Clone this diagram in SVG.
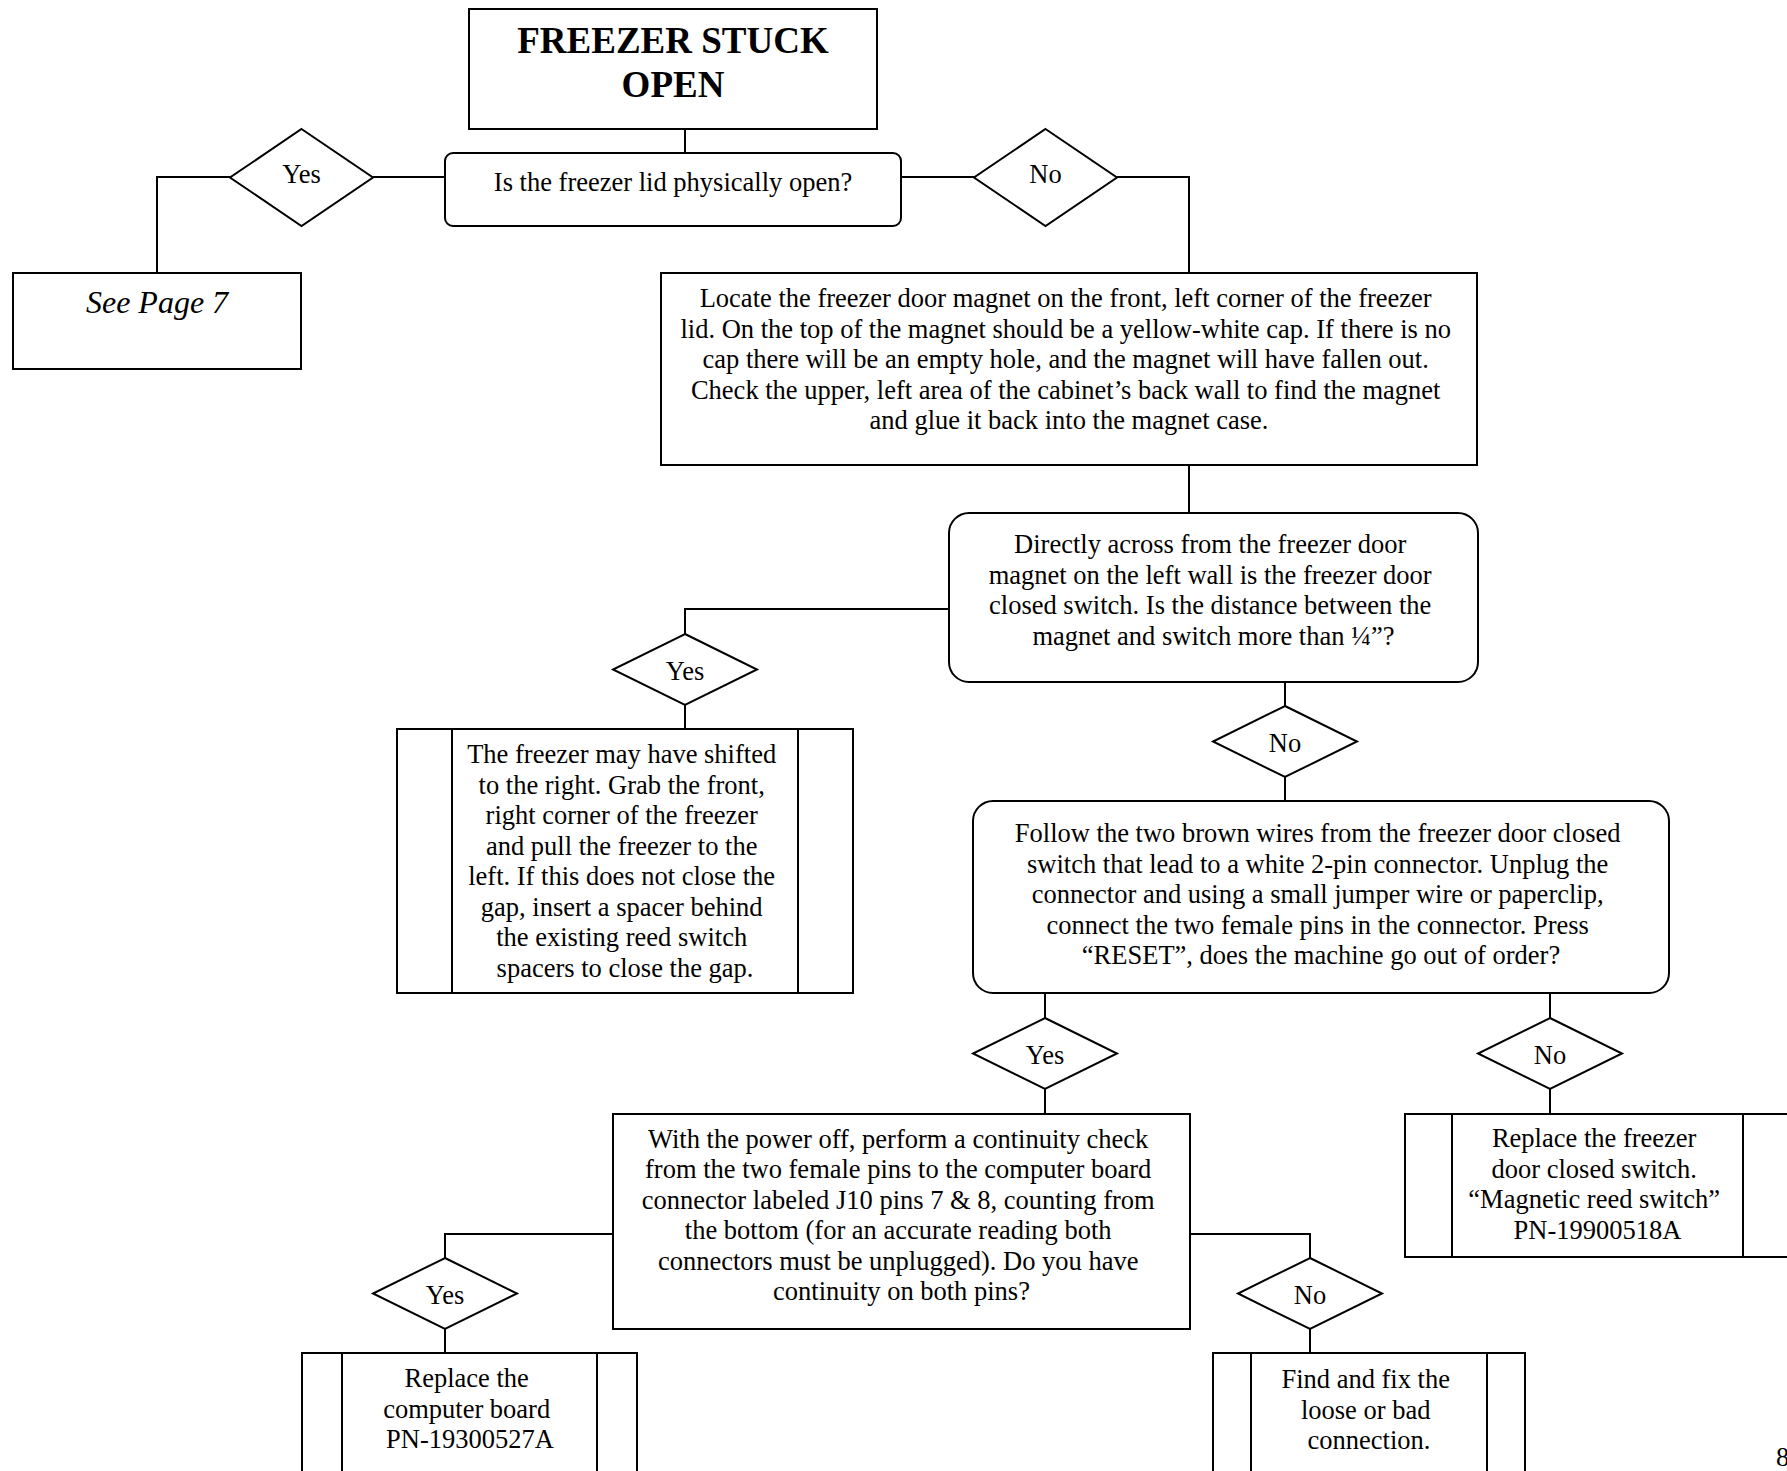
<svg xmlns="http://www.w3.org/2000/svg" width="1787" height="1471" viewBox="0 0 1787 1471">
  <style>
    .shape { fill: #ffffff; stroke: #000000; stroke-width: 2; }
    .bar { fill: none; stroke: #000000; stroke-width: 2; }
    .wire { fill: none; stroke: #000000; stroke-width: 2; }
    text { font-family: "Liberation Serif", "Times New Roman", serif; fill: #000000; text-anchor: middle; }
    .body { font-size: 26.5px; }
    .title { font-size: 37px; font-weight: bold; }
    .ref { font-size: 32px; font-style: italic; }
  </style>
  <rect width="1787" height="1471" fill="#ffffff"/>

  <!-- connectors -->
  <g id="connectors">
    <path class="wire" d="M685 129 V153"/>
    <path class="wire" d="M445 177 H373"/>
    <path class="wire" d="M230 177 H157 V273"/>
    <path class="wire" d="M901 177 H974"/>
    <path class="wire" d="M1117 177 H1189 V273"/>
    <path class="wire" d="M1189 465 V513"/>
    <path class="wire" d="M949 609 H685 V634"/>
    <path class="wire" d="M685 705 V729"/>
    <path class="wire" d="M1285 682 V706"/>
    <path class="wire" d="M1285 777 V801"/>
    <path class="wire" d="M1045 993 V1018"/>
    <path class="wire" d="M1045 1089 V1114"/>
    <path class="wire" d="M1550 993 V1018"/>
    <path class="wire" d="M1550 1089 V1114"/>
    <path class="wire" d="M613 1234 H445 V1258"/>
    <path class="wire" d="M445 1329 V1353"/>
    <path class="wire" d="M1190 1234 H1310 V1258"/>
    <path class="wire" d="M1310 1329 V1353"/>
  </g>

  <!-- start -->
  <g id="start">
    <rect class="shape" x="469" y="9" width="408" height="120"/>
    <text class="title" x="673" y="53">FREEZER STUCK</text>
    <text class="title" x="673" y="97">OPEN</text>
  </g>

  <g id="q-lid-open">
    <rect class="shape" x="445" y="153" width="456" height="73" rx="8" ry="8"/>
    <text class="body" x="673" y="191">Is the freezer lid physically open?</text>
  </g>

  <g id="d-lid-yes">
    <polygon class="shape" points="301.5,129 373,177.5 301.5,226 230,177.5"/>
    <text class="body" x="301.5" y="183">Yes</text>
  </g>

  <g id="d-lid-no">
    <polygon class="shape" points="1045.5,129 1117,177.5 1045.5,226 974,177.5"/>
    <text class="body" x="1045.5" y="183">No</text>
  </g>

  <g id="see-page-7">
    <rect class="shape" x="13" y="273" width="288" height="96"/>
    <text class="ref" x="157" y="313">See Page 7</text>
  </g>

  <g id="locate-magnet">
    <rect class="shape" x="661" y="273" width="816" height="192"/>
    <text class="body" x="1069" y="307">
      <tspan x="1069" y="307">Locate the freezer door magnet on the front, left corner of the freezer</tspan>
      <tspan x="1069" y="337.5">lid. On the top of the magnet should be a yellow-white cap. If there is no</tspan>
      <tspan x="1069" y="368">cap there will be an empty hole, and the magnet will have fallen out.</tspan>
      <tspan x="1069" y="398.5">Check the upper, left area of the cabinet’s back wall to find the magnet</tspan>
      <tspan x="1069" y="429">and glue it back into the magnet case.</tspan>
    </text>
  </g>

  <g id="q-distance">
    <rect class="shape" x="949" y="513" width="529" height="169" rx="20" ry="20"/>
    <text class="body" x="1213.5" y="553">
      <tspan x="1213.5" y="553">Directly across from the freezer door</tspan>
      <tspan x="1213.5" y="583.7">magnet on the left wall is the freezer door</tspan>
      <tspan x="1213.5" y="614.4">closed switch. Is the distance between the</tspan>
      <tspan x="1213.5" y="645.1">magnet and switch more than ¼”?</tspan>
    </text>
  </g>

  <g id="d-distance-yes">
    <polygon class="shape" points="685,634 757,669.5 685,705 613,669.5"/>
    <text class="body" x="685" y="680">Yes</text>
  </g>

  <g id="shifted">
    <rect class="shape" x="397" y="729" width="456" height="264"/>
    <path class="bar" d="M452 729 V993 M798 729 V993"/>
    <text class="body" x="625" y="763">
      <tspan x="625" y="763">The freezer may have shifted</tspan>
      <tspan x="625" y="793.5">to the right. Grab the front,</tspan>
      <tspan x="625" y="824">right corner of the freezer</tspan>
      <tspan x="625" y="854.5">and pull the freezer to the</tspan>
      <tspan x="625" y="885">left. If this does not close the</tspan>
      <tspan x="625" y="915.5">gap, insert a spacer behind</tspan>
      <tspan x="625" y="946">the existing reed switch</tspan>
      <tspan x="625" y="976.5">spacers to close the gap.</tspan>
    </text>
  </g>

  <g id="d-distance-no">
    <polygon class="shape" points="1285,706 1357,741.5 1285,777 1213,741.5"/>
    <text class="body" x="1285" y="752">No</text>
  </g>

  <g id="q-jumper">
    <rect class="shape" x="973" y="801" width="696" height="192" rx="20" ry="20"/>
    <text class="body" x="1321" y="842">
      <tspan x="1321" y="842">Follow the two brown wires from the freezer door closed</tspan>
      <tspan x="1321" y="872.5">switch that lead to a white 2-pin connector. Unplug the</tspan>
      <tspan x="1321" y="903">connector and using a small jumper wire or paperclip,</tspan>
      <tspan x="1321" y="933.5">connect the two female pins in the connector. Press</tspan>
      <tspan x="1321" y="964">“RESET”, does the machine go out of order?</tspan>
    </text>
  </g>

  <g id="d-jumper-yes">
    <polygon class="shape" points="1045,1018 1117,1053.5 1045,1089 973,1053.5"/>
    <text class="body" x="1045" y="1064">Yes</text>
  </g>

  <g id="d-jumper-no">
    <polygon class="shape" points="1550,1018 1622,1053.5 1550,1089 1478,1053.5"/>
    <text class="body" x="1550" y="1064">No</text>
  </g>

  <g id="q-continuity">
    <rect class="shape" x="613" y="1114" width="577" height="215"/>
    <text class="body" x="901.5" y="1147.5">
      <tspan x="901.5" y="1147.5">With the power off, perform a continuity check</tspan>
      <tspan x="901.5" y="1178">from the two female pins to the computer board</tspan>
      <tspan x="901.5" y="1208.5">connector labeled J10 pins 7 &amp; 8, counting from</tspan>
      <tspan x="901.5" y="1239">the bottom (for an accurate reading both</tspan>
      <tspan x="901.5" y="1269.5">connectors must be unplugged). Do you have</tspan>
      <tspan x="901.5" y="1300">continuity on both pins?</tspan>
    </text>
  </g>

  <g id="replace-switch">
    <rect class="shape" x="1405" y="1114" width="385" height="143"/>
    <path class="bar" d="M1452 1114 V1257 M1743 1114 V1257"/>
    <text class="body" x="1597.5" y="1147">
      <tspan x="1597.5" y="1147">Replace the freezer</tspan>
      <tspan x="1597.5" y="1177.5">door closed switch.</tspan>
      <tspan x="1597.5" y="1208">“Magnetic reed switch”</tspan>
      <tspan x="1597.5" y="1238.5">PN-19900518A</tspan>
    </text>
  </g>

  <g id="d-continuity-yes">
    <polygon class="shape" points="445,1258 517,1293.5 445,1329 373,1293.5"/>
    <text class="body" x="445" y="1304">Yes</text>
  </g>

  <g id="d-continuity-no">
    <polygon class="shape" points="1310,1258 1382,1293.5 1310,1329 1238,1293.5"/>
    <text class="body" x="1310" y="1304">No</text>
  </g>

  <g id="replace-board">
    <rect class="shape" x="302" y="1353" width="335" height="130"/>
    <path class="bar" d="M342 1353 V1483 M597 1353 V1483"/>
    <text class="body" x="470" y="1387">
      <tspan x="470" y="1387">Replace the</tspan>
      <tspan x="470" y="1417.5">computer board</tspan>
      <tspan x="470" y="1448">PN-19300527A</tspan>
    </text>
  </g>

  <g id="fix-connection">
    <rect class="shape" x="1213" y="1353" width="312" height="130"/>
    <path class="bar" d="M1251 1353 V1483 M1487 1353 V1483"/>
    <text class="body" x="1369" y="1388">
      <tspan x="1369" y="1388">Find and fix the</tspan>
      <tspan x="1369" y="1418.5">loose or bad</tspan>
      <tspan x="1369" y="1449">connection.</tspan>
    </text>
  </g>

  <text class="body" x="1776" y="1466" style="text-anchor: start">8</text>
</svg>
